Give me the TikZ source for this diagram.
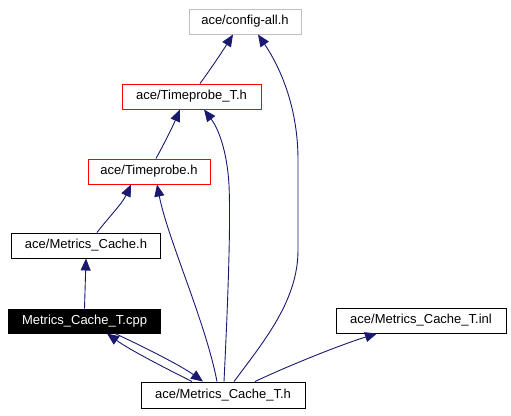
\documentclass[tikz,border=0pt]{standalone}
\usepackage{fontspec}
\setmainfont{Liberation Sans}
\usetikzlibrary{arrows.meta}
\definecolor{edgeblue}{HTML}{191970}
\definecolor{lightgrayframe}{HTML}{BFBFBF}
\tikzset{
  box/.style={draw, line width=1bp, inner sep=0pt, minimum height=25bp, font=\fontsize{13bp}{15bp}\selectfont},
  edge/.style={draw=edgeblue, line width=0.9bp, -{Triangle[length=12bp,width=10bp]}, fill=none},
}
\begin{document}
\begin{tikzpicture}[x=1bp,y=-1bp]
\useasboundingbox (0,0) rectangle (511,415);
\node[box, draw=lightgrayframe, minimum width=112bp] (config) at (245,21.5) {ace/config-all.h};
\node[box, draw=red, minimum width=139bp] (tpT) at (191.5,96.5) {ace/Timeprobe\_T.h};
\node[box, draw=red, minimum width=122bp] (tp) at (149,171.5) {ace/Timeprobe.h};
\node[box, minimum width=148bp] (mc) at (86,245.5) {ace/Metrics\_Cache.h};
\node[box, fill=black, text=white, minimum width=151bp, minimum height=24bp] (cpp) at (84.5,321) {Metrics\_Cache\_T.cpp};
\node[box, minimum width=170bp] (inl) at (421,320.5) {ace/Metrics\_Cache\_T.inl};
\node[box, minimum width=164bp, minimum height=26bp] (mct) at (223,395) {ace/Metrics\_Cache\_T.h};

% Timeprobe_T -> config
\draw[edge] ([xshift=8.5bp]tpT.north) .. controls (210,70) and (222,52) .. ([xshift=-12bp]config.south);
% Metrics_Cache_T.h -> config
\draw[edge] ([xshift=11bp]mct.north) .. controls (265,340) and (298,300) .. (298,250) -- (298,160) .. controls (298,110) and (282,70) .. ([xshift=13bp]config.south);
% Timeprobe -> Timeprobe_T
\draw[edge] ([xshift=7bp]tp.north) .. controls (165,142) and (172,128) .. ([xshift=-11.5bp]tpT.south);
% Metrics_Cache_T.h -> Timeprobe_T
\draw[edge] ([xshift=1bp]mct.north) .. controls (227,320) and (231,230) .. (229,185) .. controls (227,150) and (218,128) .. ([xshift=12.5bp]tpT.south);
% Metrics_Cache -> Timeprobe
\draw[edge] ([xshift=11bp]mc.north) .. controls (108,218) and (122,204) .. ([xshift=-18bp]tp.south);
% Metrics_Cache_T.h -> Timeprobe
\draw[edge] ([xshift=-6bp]mct.north) .. controls (205,320) and (168,240) .. ([xshift=8bp]tp.south);
% cpp -> Metrics_Cache
\draw[edge] ([xshift=0bp]cpp.north) -- ([xshift=0bp]mc.south);
% Metrics_Cache_T.h -> cpp
\draw[edge] ([xshift=-31bp]mct.north) .. controls (165,368) and (130,350) .. ([xshift=22.5bp]cpp.south);
% cpp -> Metrics_Cache_T.h
\draw[edge] ([xshift=30.5bp]cpp.south) .. controls (140,345) and (180,365) .. ([xshift=-20bp]mct.north);
% Metrics_Cache_T.h -> inl
\draw[edge] ([xshift=32bp]mct.north) .. controls (290,365) and (340,345) .. ([xshift=-44bp]inl.south);
\end{tikzpicture}
\end{document}
